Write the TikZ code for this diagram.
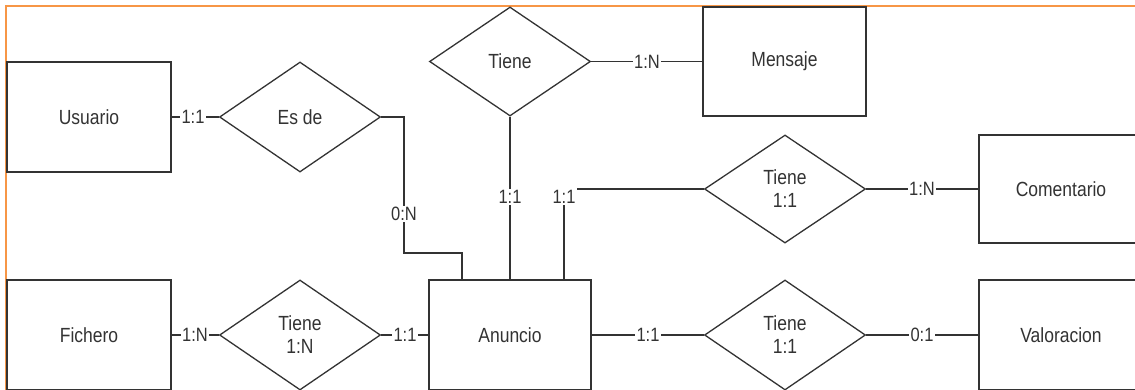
\documentclass[tikz,border=0pt]{standalone}
\usepackage{fontspec}
\setmainfont{Liberation Sans}
\usetikzlibrary{shapes.geometric}
\definecolor{ln}{HTML}{333333}
\definecolor{framec}{HTML}{F79646}
\newcommand{\vst}[1]{\scalebox{1}[1.17]{#1}}
\begin{document}
\begin{tikzpicture}[x=1pt,y=-1pt,
  ent/.style={draw=ln, line width=1.3pt, minimum width=164pt, minimum height=110pt,
    inner sep=0pt, text=ln, font=\fontsize{17.5}{22}\selectfont},
  rel/.style={draw=ln, line width=1.3pt, diamond, aspect=1.46, minimum width=161pt,
    minimum height=110pt, inner sep=0pt, align=center, text=ln,
    font=\fontsize{17.5}{23}\selectfont},
  card/.style={fill=white, inner xsep=1.5pt, inner ysep=1pt, text=ln,
    font=\fontsize{16.5}{20}\selectfont},
  conn/.style={draw=ln, line width=1.3pt}]
\useasboundingbox (0,0) rectangle (1135,389);
\clip (0,0) rectangle (1135,389);
\fill[white] (0,0) rectangle (1135,389);
\draw[framec, line width=2.2pt] (6,395) -- (6,6) -- (1140,6);

% entities
\node[ent] (usuario) at (89,117) {\vst{Usuario}};
\node[ent] (fichero) at (89,335) {\vst{Fichero}};
\node[ent, minimum width=162pt] (anuncio) at (510,335) {\vst{Anuncio}};
\node[ent, minimum width=163pt, minimum height=109pt] (mensaje) at (784.5,61.5) {\vst{Mensaje}};
\node[ent, minimum height=108pt] (comentario) at (1061,189) {\vst{Comentario}};
\node[ent] (valoracion) at (1061,335) {\vst{Valoracion}};

% relationships
\node[rel] (esde) at (300,117) {\vst{Es de}};
\node[rel, minimum height=109pt] (tmsg) at (510,61.5) {\vst{Tiene}};
\node[rel, minimum height=108pt] (tcom) at (785,189) {\vst{Tiene}\\\vst{1:1}};
\node[rel] (tval) at (785,335) {\vst{Tiene}\\\vst{1:1}};
\node[rel] (tfich) at (300,335) {\vst{Tiene}\\\vst{1:N}};

% connectors
\coordinate (c1) at (404,117);
\coordinate (c2) at (404,253);
\coordinate (c3) at (462,253);
\coordinate (c4) at (462,280);
\coordinate (c5) at (564,280);
\draw[conn] (usuario.east) -- (esde.west);
\draw[conn] (esde.east) -- (c1) -- (c2) -- (c3) -- (c4);
\draw[conn] (tmsg.south) -- (anuncio.north);
\draw[conn] (tmsg.east) -- (mensaje.west);
\draw[conn] (tcom.east) -- (comentario.west);
\draw[conn] (fichero.east) -- (tfich.west);
\draw[conn] (tfich.east) -- (anuncio.west);
\draw[conn] (anuncio.east) -- (tval.west);
\draw[conn] (tval.east) -- (valoracion.west);

% cardinality labels
\node[card] at (193,117) {\vst{1:1}};
\node[card] at (404,214) {\vst{0:N}};
\node[card] at (510,197) {\vst{1:1}};
\node[card, inner ysep=1.5pt] (l5) at (564,197) {\vst{1:1}};
\draw[conn] (c5) -- (l5.south);
\draw[conn] (l5.east |- tcom.west) -- (tcom.west);
\node[card] at (647,61.5) {\vst{1:N}};
\node[card] at (922,189) {\vst{1:N}};
\node[card] at (195,335) {\vst{1:N}};
\node[card] at (405,335) {\vst{1:1}};
\node[card] at (648,335) {\vst{1:1}};
\node[card] at (922,335) {\vst{0:1}};
\end{tikzpicture}
\end{document}
